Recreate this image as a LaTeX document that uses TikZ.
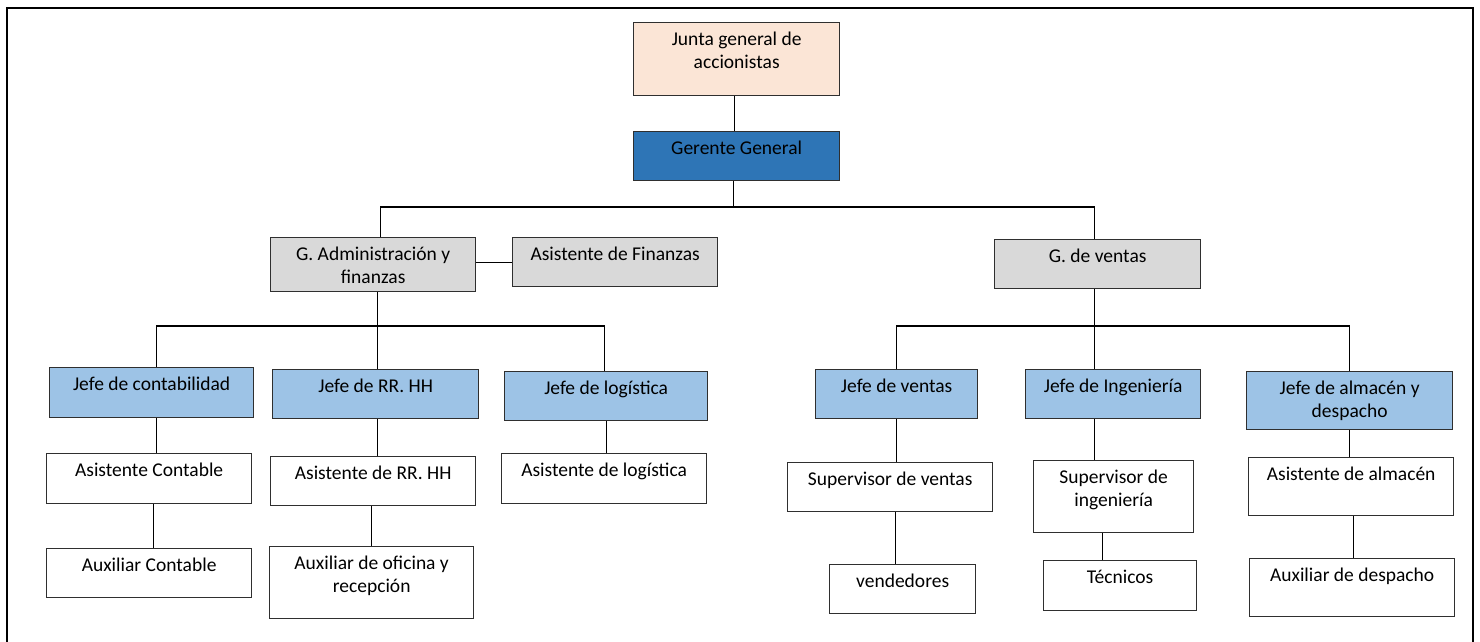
\documentclass[tikz,border=0pt]{standalone}
\usepackage{fontspec}
\setmainfont{Carlito}
\definecolor{peach}{HTML}{FBE5D6}
\definecolor{dblue}{HTML}{2E75B6}
\definecolor{lblue}{HTML}{9DC3E6}
\definecolor{lgray}{HTML}{D9D9D9}
\definecolor{edge}{HTML}{2F2F2F}
\tikzset{
  orgbox/.style={draw=edge, line width=1.3pt, inner sep=0pt},
  peachbox/.style={orgbox, fill=peach},
  darkbox/.style={orgbox, fill=dblue},
  graybox/.style={orgbox, fill=lgray},
  bluebox/.style={orgbox, fill=lblue},
  whitebox/.style={orgbox, fill=white},
  boxtext/.style={inner sep=0pt, align=center, anchor=north, font=\fontsize{19.5}{23.5}\selectfont},
  conn/.style={draw=black, line width=1.1pt}
}
\newcommand{\orgnode}[7]{%
  \node[#6, minimum width={#4pt-#2pt}, minimum height={#5pt-#3pt}, anchor=north west] (#1) at (#2,#3) {};
  \node[boxtext] (#1-t) at ([yshift=-9.5pt]#1.north) {#7};
}
\begin{document}
\begin{tikzpicture}[x=1pt,y=-1pt]
\useasboundingbox (0,0) rectangle (1480,641);
\fill[white] (0,0) rectangle (1480,641);
\draw[line width=2.3pt] (7,650) -- (7,8) -- (1473,8) -- (1473,650);

\orgnode{junta}{633}{22}{839}{95}{peachbox}{Junta general de\\accionistas}
\orgnode{gg}{633}{131}{839}{180}{darkbox}{Gerente General}
\orgnode{ga}{270}{237}{475}{291}{graybox}{G. Administración y\\finanzas}
\orgnode{af}{512}{237}{717}{286}{graybox}{Asistente de Finanzas}
\orgnode{gv}{994}{239}{1200}{288}{graybox}{G. de ventas}
\orgnode{jc}{49}{367}{253}{417}{bluebox}{Jefe de contabilidad}
\orgnode{jr}{272}{369}{478}{418}{bluebox}{Jefe de RR. HH}
\orgnode{jl}{504}{371}{707}{420}{bluebox}{Jefe de logística}
\orgnode{ac}{46}{453}{251}{503}{whitebox}{Asistente Contable}
\orgnode{xc}{46}{548}{251}{597}{whitebox}{Auxiliar Contable}
\orgnode{ar}{270}{456}{475}{505}{whitebox}{Asistente de RR. HH}
\orgnode{xo}{269}{546}{473}{618}{whitebox}{Auxiliar de oficina y\\recepción}
\orgnode{al}{501}{453}{706}{503}{whitebox}{Asistente de logística}
\orgnode{jv}{815}{369}{977}{418}{bluebox}{Jefe de ventas}
\orgnode{ji}{1025}{369}{1200}{418}{bluebox}{Jefe de Ingeniería}
\orgnode{ja}{1246}{371}{1452}{429}{bluebox}{Jefe de almacén y\\despacho}
\orgnode{sv}{787}{462}{992}{511}{whitebox}{Supervisor de ventas}
\orgnode{ve}{829}{564}{975}{613}{whitebox}{vendedores}
\orgnode{si}{1033}{460}{1193}{532}{whitebox}{Supervisor de\\ingeniería}
\orgnode{te}{1043}{560}{1196}{610}{whitebox}{Técnicos}
\orgnode{aa}{1248}{457}{1453}{515}{whitebox}{Asistente de almacén}
\orgnode{xd}{1249}{558}{1454}{616}{whitebox}{Auxiliar de despacho}

\coordinate (bar0) at (0,207);
\coordinate (bar1) at (0,326);
\coordinate (gax) at ([xshift=4pt]ga.south);
\coordinate (gvx) at ([xshift=-3pt]gv.south);

% top levels
\draw[conn] ([xshift=-2pt]junta.south) -- ([xshift=-2pt]gg.north);
\draw[conn] ([xshift=-3pt]gg.south) -- ([xshift=-3pt]gg.south |- bar0);
\draw[conn] ([xshift=7pt]ga.north) |- (gvx |- bar0) -- (gvx |- gv.north);
\draw[conn] (ga.east |- af.west) -- (af.west);

% administration branch
\draw[conn] (gax) -- (gax |- bar1);
\draw[conn] ([xshift=5pt]jc.north) |- ([xshift=-2pt]jl.north |- bar1) -- ([xshift=-2pt]jl.north);
\draw[conn] (gax |- jr.north) -- (gax |- bar1);
\draw[conn] ([xshift=5pt]jc.south) -- ([xshift=5pt]jc.south |- ac.north);
\draw[conn] ([xshift=4pt]ac.south) -- ([xshift=4pt]ac.south |- xc.north);
\draw[conn] (gax |- jr.south) -- (gax |- ar.north);
\draw[conn] ([xshift=-1.5pt]ar.south) -- ([xshift=-1.5pt]ar.south |- xo.north);
\draw[conn] (jl.south) -- (jl.south |- al.north);

% sales branch
\draw[conn] (gvx) -- (gvx |- bar1);
\draw[conn] (jv.north) |- (ja.north |- bar1) -- (ja.north);
\draw[conn] (gvx |- ji.north) -- (gvx |- bar1);
\draw[conn] (jv.south) -- (jv.south |- sv.north);
\draw[conn] ([xshift=5.5pt]sv.south) -- ([xshift=5.5pt]sv.south |- ve.north);
\draw[conn] (gvx |- ji.south) -- (gvx |- si.north);
\draw[conn] ([xshift=-11.5pt]si.south) -- ([xshift=-11.5pt]si.south |- te.north);
\draw[conn] (ja.south) -- (ja.south |- aa.north);
\draw[conn] ([xshift=2.5pt]aa.south) -- ([xshift=2.5pt]aa.south |- xd.north);
\end{tikzpicture}
\end{document}
